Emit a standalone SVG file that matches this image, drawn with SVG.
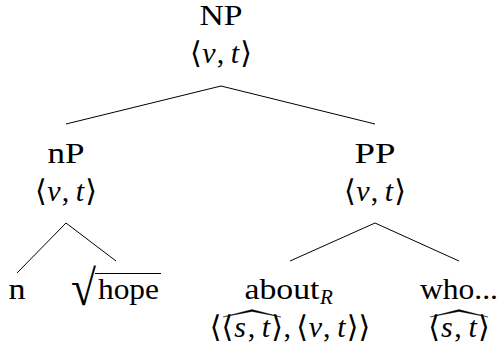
<svg xmlns="http://www.w3.org/2000/svg" width="499" height="358" viewBox="0 0 499 358">
<style>
text{font-family:"Liberation Serif","Times New Roman",serif;font-size:30px;fill:#000}
.m{text-anchor:middle}
.i{font-style:italic}
.b{font-family:"DejaVu Serif","Liberation Serif",serif}
.e{stroke:#000;stroke-width:1;fill:none}
.hat{fill:#000;stroke:#000;stroke-width:0.4}
</style>
<rect width="499" height="358" fill="#fff"/>
<g id="edges">
<line class="e" x1="221" y1="86" x2="66" y2="124"/>
<line class="e" x1="221" y1="86" x2="375" y2="124"/>
<line class="e" x1="66" y1="223" x2="17" y2="273"/>
<line class="e" x1="66" y1="223" x2="116" y2="261"/>
<line class="e" x1="375" y1="223" x2="290" y2="261"/>
<line class="e" x1="375" y1="223" x2="459" y2="261"/>
</g>
<g id="NP">
<text class="m" x="221" y="25" textLength="43" lengthAdjust="spacingAndGlyphs">NP</text>
<text class="m" y="63"><tspan class="b" x="195.8">⟨</tspan><tspan class="i" x="208.9">v</tspan><tspan x="220.4">,</tspan><tspan class="i" x="235">t</tspan><tspan class="b" x="246.2">⟩</tspan></text>
</g>
<g id="nP">
<text class="m" x="66" y="163" textLength="37" lengthAdjust="spacingAndGlyphs">nP</text>
<text class="m" y="201"><tspan class="b" x="40.8">⟨</tspan><tspan class="i" x="53.9">v</tspan><tspan x="65.4">,</tspan><tspan class="i" x="80">t</tspan><tspan class="b" x="91.2">⟩</tspan></text>
</g>
<g id="PP">
<text class="m" x="375" y="163" textLength="41" lengthAdjust="spacingAndGlyphs">PP</text>
<text class="m" y="201"><tspan class="b" x="349.8">⟨</tspan><tspan class="i" x="362.9">v</tspan><tspan x="374.4">,</tspan><tspan class="i" x="389">t</tspan><tspan class="b" x="400.2">⟩</tspan></text>
</g>
<g id="n">
<text class="m" x="17" y="299" textLength="17" lengthAdjust="spacingAndGlyphs">n</text>
</g>
<g id="hope">
<text x="71" y="305" style="font-size:50px" textLength="25" lengthAdjust="spacingAndGlyphs">√</text>
<line x1="95" y1="273.5" x2="161" y2="273.5" stroke="#000" stroke-width="1.2"/>
<text x="98" y="299" textLength="61" lengthAdjust="spacingAndGlyphs">hope</text>
</g>
<g id="aboutR">
<text x="244.5" y="299" textLength="75" lengthAdjust="spacingAndGlyphs">about</text>
<text class="i" x="320" y="303.5" style="font-size:21px">R</text>
<path class="hat" d="M223,317 L252,309.6 L281,317 L252,311.4 Z"/>
<text class="m" y="337"><tspan class="b" x="215.6">⟨</tspan><tspan class="b" x="227.3">⟨</tspan><tspan class="i" x="240.2">s</tspan><tspan x="251.4">,</tspan><tspan class="i" x="266">t</tspan><tspan class="b" x="277.2">⟩</tspan><tspan x="287.2">,</tspan><tspan class="b" x="302.2">⟨</tspan><tspan class="i" x="315.4">v</tspan><tspan x="326.8">,</tspan><tspan class="i" x="341.4">t</tspan><tspan class="b" x="352.6">⟩</tspan><tspan class="b" x="364.3">⟩</tspan></text>
</g>
<g id="who">
<text x="420" y="299" textLength="78" lengthAdjust="spacingAndGlyphs">who...</text>
<path class="hat" d="M430,317 L459,309.6 L488,317 L459,311.4 Z"/>
<text class="m" y="337"><tspan class="b" x="434">⟨</tspan><tspan class="i" x="446.9">s</tspan><tspan x="458.1">,</tspan><tspan class="i" x="472.6">t</tspan><tspan class="b" x="483.9">⟩</tspan></text>
</g>
</svg>
